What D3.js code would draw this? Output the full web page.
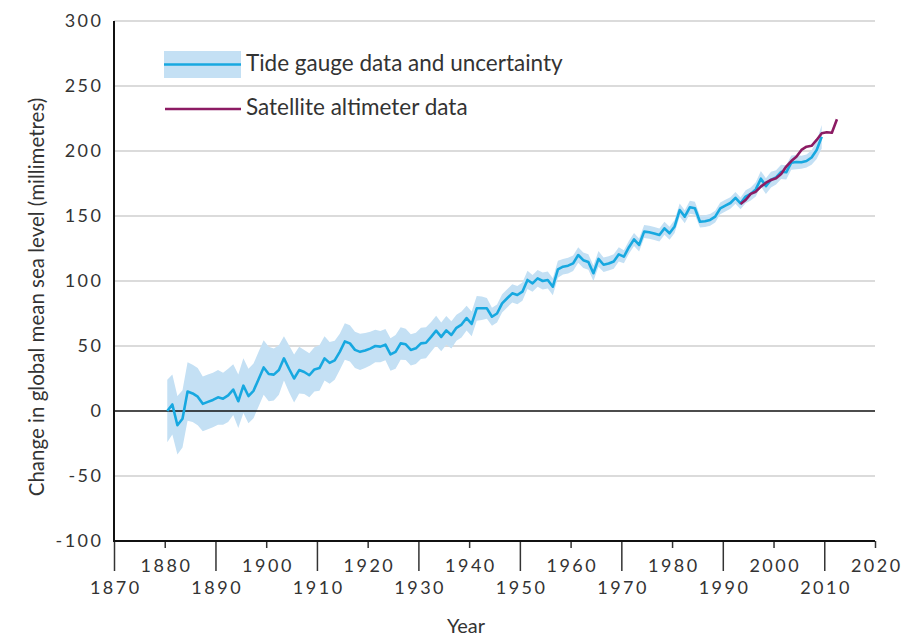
<!DOCTYPE html>
<html>
<head>
<meta charset="utf-8">
<script src="https://cdn.jsdelivr.net/npm/d3@7"></script>
<style>
  html, body { margin: 0; padding: 0; background: #fff; }
  svg { display: block; }
  text { font-family: Lato, "Open Sans", sans-serif; fill: #333; }
</style>
</head>
<body>
<svg id="chart" width="906" height="639"></svg>
<script>
// ---- Data ----
const tideYears = d3.range(1880, 2010);
const tideValues = [
  0, 5, -11, -6, 15, 13.5, 11, 5.5, 7, 8.5,
  10.5, 9.5, 12, 16.5, 7.5, 19.5, 11.5, 15.5, 24.5, 33.5,
  28.5, 28, 31.5, 40.5, 32.5, 25, 31.5, 30, 27.5, 32,
  33, 40.5, 37, 39, 45.5, 53.5, 52, 47, 45.5, 46.5,
  48, 50, 49.5, 51, 43.5, 45.5, 52, 51.3, 47, 48.2,
  52, 52.5, 57, 61.8, 57, 62, 58.5, 64, 66.5, 71.5,
  67, 79, 79, 79, 72.5, 75, 82.8, 86.7, 90.5, 89.2,
  91.8, 100.8, 98.2, 102, 100, 100.8, 95.6, 109, 111, 111.8,
  113.6, 120, 116, 114.6, 106, 117, 112.5, 113.5, 115, 120.5,
  118.7, 126, 132, 127.7, 138, 137.5, 136.5, 135.4, 140.5, 136.7,
  142, 154.6, 149.5, 156.7, 156, 145.6, 146, 147, 149.5, 155.9,
  158, 160, 164, 159.7, 164.9, 167, 170.5, 178.7, 173, 178,
  179.7, 184, 183.6, 191, 191.5, 191.3, 192.3, 195, 200.8, 211
];
const tideUncertainty = [
  24, 23, 22.5, 22, 22.5, 22, 22, 21, 21, 21,
  21, 20, 20.5, 19.5, 20.5, 21, 21, 21, 21, 21,
  21, 20, 19, 17, 18, 18.5, 18, 17, 17, 17,
  17.5, 17, 16, 15, 14, 14, 14, 14, 14, 13.5,
  13, 12.5, 12, 12, 12.5, 13, 12.5, 12, 12, 12,
  12, 12, 11.5, 11.5, 11, 11, 10.5, 10, 10, 9.5,
  9.5, 9.5, 9, 8, 7, 7, 7, 7, 7, 7,
  7, 7, 6.5, 6.5, 6.5, 6.5, 6.5, 6.5, 6, 6,
  6, 6, 6, 6, 6, 6, 5.5, 5.5, 5.5, 5.5,
  5, 5, 5, 5, 5, 5, 5, 5, 5, 5,
  5, 5, 5, 5, 5, 4.5, 4.5, 4.5, 4.5, 4.5,
  4.5, 4.5, 4.5, 4.5, 5, 5, 5.5, 6, 6, 6,
  5.5, 5.5, 5.5, 5.5, 5.5, 5, 5, 5.5, 7, 9
];
const satYears = d3.range(1993, 2013);
const satValues = [
  159.2, 162.3, 167, 168.7, 172.6, 175.6, 177.7, 179, 182.3, 188,
  192.3, 195.6, 200.8, 203.3, 204, 208.5, 213.6, 214.4, 214, 224.4
];
const yTicks = [-100, -50, 0, 50, 100, 150, 200, 250, 300];
const xTicksUpper = [1880, 1900, 1920, 1940, 1960, 1980, 2000, 2020];
const xTicksLower = [1870, 1890, 1910, 1930, 1950, 1970, 1990, 2010];
const legendLabels = ["Tide gauge data and uncertainty", "Satellite altimeter data"];

// ---- Style ----
const blue = "#17a8e0";
const bandFill = "#c4e0f4";
const purple = "#8c1b63";

const svg = d3.select("#chart");
const x = d3.scaleLinear().domain([1870, 2020]).range([114, 875]);
const y = d3.scaleLinear().domain([-100, 300]).range([541, 21]);
const plainFmt = d => String(d);

// gridlines
svg.append("g").selectAll("line")
  .data(yTicks.filter(d => d !== -100 && d !== 0))
  .join("line")
  .attr("x1", x(1870)).attr("x2", x(2020))
  .attr("y1", d => y(d)).attr("y2", d => y(d))
  .attr("stroke", "#cfcfcf").attr("stroke-width", 1.5);

// tide data
const tide = tideYears.map((yr, i) => ({ t: yr + 0.5, v: tideValues[i], u: tideUncertainty[i] }));
const sat = satYears.map((yr, i) => ({ t: yr + 0.5, v: satValues[i] }));

svg.append("path").datum(tide)
  .attr("fill", bandFill)
  .attr("d", d3.area().x(d => x(d.t)).y0(d => y(d.v - d.u)).y1(d => y(d.v + d.u)));

// zero line
svg.append("line")
  .attr("x1", x(1870)).attr("x2", x(2020))
  .attr("y1", y(0)).attr("y2", y(0))
  .attr("stroke", "#111").attr("stroke-width", 1.5);

svg.append("path").datum(tide)
  .attr("fill", "none").attr("stroke", blue).attr("stroke-width", 2.6)
  .attr("stroke-linejoin", "round")
  .attr("d", d3.line().x(d => x(d.t)).y(d => y(d.v)));

svg.append("path").datum(sat)
  .attr("fill", "none").attr("stroke", purple).attr("stroke-width", 2.6)
  .attr("stroke-linejoin", "round")
  .attr("d", d3.line().x(d => x(d.t)).y(d => y(d.v)));

// y axis
const yAxis = svg.append("g").attr("transform", `translate(${x(1870)},0)`)
  .call(d3.axisLeft(y).tickValues(yTicks).tickFormat(plainFmt).tickSize(0).tickPadding(13));
yAxis.select(".domain").remove();
yAxis.selectAll("text").attr("font-size", 18).style("letter-spacing", "2.5px")
  .attr("font-family", "Lato").attr("fill", "#333").attr("dx", "2.5px");
svg.append("line").attr("x1", x(1870)).attr("x2", x(1870))
  .attr("y1", y(300)).attr("y2", y(-100)).attr("stroke", "#111").attr("stroke-width", 2);

// x axis (two rows)
const xa1 = svg.append("g").attr("transform", `translate(0,${y(-100)})`)
  .call(d3.axisBottom(x).tickValues(xTicksUpper).tickFormat(plainFmt).tickSize(7).tickSizeOuter(0).tickPadding(11));
const xa2 = svg.append("g").attr("transform", `translate(0,${y(-100)})`)
  .call(d3.axisBottom(x).tickValues(xTicksLower).tickFormat(plainFmt).tickSize(30).tickSizeOuter(0).tickPadding(10));
[xa1, xa2].forEach(g => {
  g.select(".domain").remove();
  g.selectAll("line").attr("stroke", "#333").attr("stroke-width", 1.5);
  g.selectAll("text").attr("font-size", 18).style("letter-spacing", "2.5px")
    .attr("font-family", "Lato").attr("fill", "#333").attr("dx", "1.25px");
});
svg.append("line").attr("x1", x(1870) - 1).attr("x2", x(2020))
  .attr("y1", y(-100)).attr("y2", y(-100)).attr("stroke", "#111").attr("stroke-width", 2);

// axis titles
svg.append("text").attr("x", 466).attr("y", 633).attr("text-anchor", "middle")
  .attr("font-size", 20).text("Year");
svg.append("text").attr("transform", "translate(44,297) rotate(-90)")
  .attr("text-anchor", "middle").attr("font-size", 20.5)
  .text("Change in global mean sea level (millimetres)");

// legend
const lg = svg.append("g");
lg.append("rect").attr("x", 164).attr("y", 51).attr("width", 77).attr("height", 27).attr("fill", bandFill);
lg.append("line").attr("x1", 164).attr("x2", 241).attr("y1", 64.5).attr("y2", 64.5)
  .attr("stroke", blue).attr("stroke-width", 2.6);
lg.append("line").attr("x1", 165).attr("x2", 241).attr("y1", 109).attr("y2", 109)
  .attr("stroke", purple).attr("stroke-width", 2.6);
lg.append("text").attr("x", 246).attr("y", 71).attr("font-size", 22.5).text(legendLabels[0]);
lg.append("text").attr("x", 246).attr("y", 115).attr("font-size", 22.5).text(legendLabels[1]);
</script>
</body>
</html>
